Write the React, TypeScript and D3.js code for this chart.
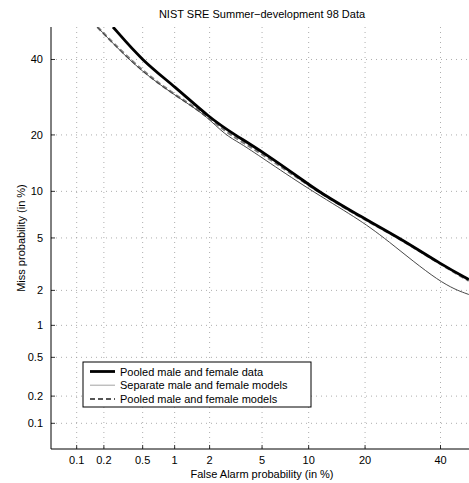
import { useRef, useEffect } from 'react';
import * as d3 from 'd3';

const W = 469;
const H = 483;
const MARGIN = { top: 27, left: 51, right: 473, bottom: 449 };
const FONT = '"Liberation Sans", Arial, sans-serif';

const TICKS = [0.1, 0.2, 0.5, 1, 2, 5, 10, 20, 40];
const DOMAIN = [0.05, 50];

// values in %
const pooledDataFa = [0.25, 0.5, 1, 2, 3.17, 5, 10, 11.4, 18.2, 28.4, 40.3, 48.7];
const pooledDataMiss = [50, 39.5, 32.2, 23.9, 20, 16.6, 11, 10, 7.2, 5, 3.2, 2.45];

const separateFa = [0.17, 0.36, 0.68, 1.28, 1.89, 2.66, 3.46, 5, 10, 18.2, 24.6, 40.3, 48.7];
const separateMiss = [50, 40, 33.2, 27.7, 24.3, 20, 18.3, 15.4, 10.3, 6.84, 5, 2.23, 1.85];

const pooledModelsFa = [0.17, 0.37, 0.69, 1.3, 1.92, 2.9, 5, 10, 18.2, 28.2, 40.3, 48.7];
const pooledModelsMiss = [50, 40, 33.2, 27.7, 24.3, 20, 16.2, 10.8, 7.1, 5, 3.18, 2.4];

const LEGEND = ['Pooled male and female data', 'Separate male and female models', 'Pooled male and female models'];

// inverse normal CDF (Acklam)
function probit(p: number): number {
  const a = [-39.69683028665376, 220.9460984245205, -275.9285104469687, 138.357751867269, -30.66479806614716, 2.506628277459239];
  const b = [-54.47609879822406, 161.5858368580409, -155.6989798598866, 66.80131188771972, -13.28068155288572];
  const c = [-0.007784894002430293, -0.3223964580411365, -2.400758277161838, -2.549732539343734, 4.374664141464968, 2.938163982698783];
  const d = [0.007784695709041462, 0.3224671290700398, 2.445134137142996, 3.754408661907416];
  const pl = 0.02425;
  if (p < pl) {
    const q = Math.sqrt(-2 * Math.log(p));
    return (((((c[0] * q + c[1]) * q + c[2]) * q + c[3]) * q + c[4]) * q + c[5]) / ((((d[0] * q + d[1]) * q + d[2]) * q + d[3]) * q + 1);
  }
  if (p > 1 - pl) return -probit(1 - p);
  const q = p - 0.5;
  const r = q * q;
  return (((((a[0] * r + a[1]) * r + a[2]) * r + a[3]) * r + a[4]) * r + a[5]) * q / (((((b[0] * r + b[1]) * r + b[2]) * r + b[3]) * r + b[4]) * r + 1);
}

export default function App() {
  const svgRef = useRef<SVGSVGElement>(null);

  useEffect(() => {
    const svg = d3.select(svgRef.current);
    svg.selectAll('*').remove();

    const xLin = d3.scaleLinear().domain(DOMAIN.map(v => probit(v / 100))).range([MARGIN.left, MARGIN.right]);
    const yLin = d3.scaleLinear().domain(DOMAIN.map(v => probit(v / 100))).range([MARGIN.bottom, MARGIN.top]);
    const x = (v: number) => xLin(probit(v / 100));
    const y = (v: number) => yLin(probit(v / 100));

    const g = svg.append('g');

    // grid
    g.selectAll('.vgrid').data(TICKS).join('line')
      .attr('x1', d => x(d)).attr('x2', d => x(d))
      .attr('y1', MARGIN.top).attr('y2', MARGIN.bottom)
      .attr('stroke', '#999').attr('stroke-width', 0.8).attr('stroke-dasharray', '1,4');
    g.selectAll('.hgrid').data(TICKS).join('line')
      .attr('y1', d => y(d)).attr('y2', d => y(d))
      .attr('x1', MARGIN.left).attr('x2', MARGIN.right)
      .attr('stroke', '#999').attr('stroke-width', 0.8).attr('stroke-dasharray', '1,4');

    // axes
    g.append('line').attr('x1', MARGIN.left).attr('x2', MARGIN.left)
      .attr('y1', MARGIN.top).attr('y2', MARGIN.bottom).attr('stroke', '#000').attr('stroke-width', 1);
    g.append('line').attr('x1', MARGIN.left).attr('x2', MARGIN.right)
      .attr('y1', MARGIN.bottom).attr('y2', MARGIN.bottom).attr('stroke', '#000').attr('stroke-width', 1);

    g.selectAll('.xtick').data(TICKS).join('line')
      .attr('x1', d => x(d)).attr('x2', d => x(d))
      .attr('y1', MARGIN.bottom).attr('y2', MARGIN.bottom - 4)
      .attr('stroke', '#000').attr('stroke-width', 0.8);
    g.selectAll('.ytick').data(TICKS).join('line')
      .attr('y1', d => y(d)).attr('y2', d => y(d))
      .attr('x1', MARGIN.left).attr('x2', MARGIN.left + 4)
      .attr('stroke', '#000').attr('stroke-width', 0.8);

    g.selectAll('.xlab').data(TICKS).join('text')
      .attr('x', d => x(d)).attr('y', MARGIN.bottom + 15)
      .attr('text-anchor', 'middle').attr('font-size', 11).attr('font-family', FONT)
      .text(d => String(d));
    g.selectAll('.ylab').data(TICKS).join('text')
      .attr('x', MARGIN.left - 8).attr('y', d => y(d) + 4)
      .attr('text-anchor', 'end').attr('font-size', 11).attr('font-family', FONT)
      .text(d => String(d));

    const cx = (MARGIN.left + MARGIN.right) / 2;
    svg.append('text').attr('x', cx).attr('y', 18).attr('text-anchor', 'middle')
      .attr('font-size', 11).attr('font-family', FONT).text('NIST SRE Summer\u2212development 98 Data');
    svg.append('text').attr('x', cx).attr('y', 478).attr('text-anchor', 'middle')
      .attr('font-size', 11).attr('font-family', FONT).text('False Alarm probability (in %)');
    svg.append('text')
      .attr('transform', `translate(25,${(MARGIN.top + MARGIN.bottom) / 2}) rotate(-90)`)
      .attr('text-anchor', 'middle').attr('font-size', 11).attr('font-family', FONT)
      .text('Miss probability (in %)');

    // curves
    const line = d3.line<[number, number]>().x(d => x(d[0])).y(d => y(d[1])).curve(d3.curveBasis);
    svg.append('clipPath').attr('id', 'plotclip').append('rect')
      .attr('x', MARGIN.left).attr('y', MARGIN.top)
      .attr('width', MARGIN.right - MARGIN.left).attr('height', MARGIN.bottom - MARGIN.top);
    const curves = svg.append('g').attr('clip-path', 'url(#plotclip)');
    const zip = (a: number[], b: number[]) => a.map((v, i) => [v, b[i]] as [number, number]);

    curves.append('path').datum(zip(pooledModelsFa, pooledModelsMiss))
      .attr('d', line).attr('fill', 'none').attr('stroke', '#808080').attr('stroke-width', 2.4)
      .attr('stroke-dasharray', '5,3');
    curves.append('path').datum(zip(separateFa, separateMiss))
      .attr('d', line).attr('fill', 'none').attr('stroke', '#333').attr('stroke-width', 0.9);
    curves.append('path').datum(zip(pooledDataFa, pooledDataMiss))
      .attr('d', line).attr('fill', 'none').attr('stroke', '#000').attr('stroke-width', 2.8)
      .attr('stroke-linejoin', 'round');

    // legend
    const lx = 83, ly = 362;
    const lg = svg.append('g').attr('transform', `translate(${lx},${ly})`);
    lg.append('rect').attr('width', 228).attr('height', 45)
      .attr('fill', '#fff').attr('stroke', '#000').attr('stroke-width', 1);
    const styles = [
      { stroke: '#000', w: 2.8, dash: null },
      { stroke: '#999', w: 0.9, dash: null },
      { stroke: '#555', w: 2, dash: '5,3' },
    ];
    LEGEND.forEach((t, i) => {
      const yy = 9.5 + i * 13.7;
      const s = styles[i];
      lg.append('line').attr('x1', 7).attr('x2', 32).attr('y1', yy).attr('y2', yy)
        .attr('stroke', s.stroke).attr('stroke-width', s.w)
        .attr('stroke-dasharray', s.dash);
      lg.append('text').attr('x', 37).attr('y', yy + 4).attr('font-size', 11)
        .attr('font-family', FONT).text(t);
    });
  }, []);

  return (
    <svg ref={svgRef} width={W} height={H}
      style={{ position: 'absolute', left: 0, top: 0, background: '#fff' }} />
  );
}
